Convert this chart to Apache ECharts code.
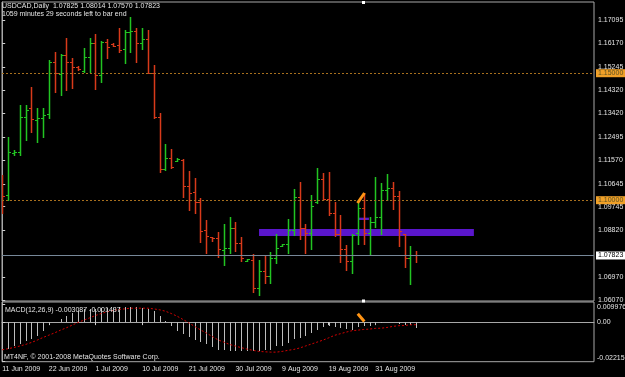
<!DOCTYPE html>
<html><head><meta charset="utf-8">
<script src="https://cdn.jsdelivr.net/npm/echarts@6/dist/echarts.min.js"></script>
<style>html,body{margin:0;padding:0;background:#000;}#c{width:625px;height:377px;}</style>
</head><body><div id="c"></div>
<script>
const symbolName = 'USDCAD,Daily';
const dates = ['11 Jun 2009','12 Jun 2009','14 Jun 2009','15 Jun 2009','16 Jun 2009','17 Jun 2009','18 Jun 2009','19 Jun 2009',
 '22 Jun 2009','23 Jun 2009','24 Jun 2009','25 Jun 2009','26 Jun 2009','28 Jun 2009','29 Jun 2009','30 Jun 2009',
 '1 Jul 2009','2 Jul 2009','3 Jul 2009','5 Jul 2009','6 Jul 2009','7 Jul 2009','8 Jul 2009','9 Jul 2009',
 '10 Jul 2009','13 Jul 2009','14 Jul 2009','15 Jul 2009','16 Jul 2009','17 Jul 2009','19 Jul 2009','20 Jul 2009',
 '21 Jul 2009','22 Jul 2009','23 Jul 2009','24 Jul 2009','26 Jul 2009','27 Jul 2009','28 Jul 2009','29 Jul 2009',
 '30 Jul 2009','31 Jul 2009','2 Aug 2009','3 Aug 2009','4 Aug 2009','5 Aug 2009','6 Aug 2009','7 Aug 2009',
 '9 Aug 2009','10 Aug 2009','11 Aug 2009','12 Aug 2009','13 Aug 2009','14 Aug 2009','17 Aug 2009','18 Aug 2009',
 '19 Aug 2009','20 Aug 2009','21 Aug 2009','24 Aug 2009','25 Aug 2009','26 Aug 2009','27 Aug 2009','28 Aug 2009',
 '31 Aug 2009','1 Sep 2009','2 Sep 2009','3 Sep 2009','4 Sep 2009','7 Sep 2009','8 Sep 2009','9 Sep 2009'];
const opens = [1.10599,1.10205,1.11858,1.11910,1.13276,1.13630,1.13158,1.13236,1.13394,1.15441,1.14969,1.15717,1.15441,1.15244,1.15087,1.15627,
 1.16201,1.14929,1.16241,1.16150,1.16111,1.15942,1.16611,1.16674,1.16201,1.16335,1.15008,1.13264,1.11217,1.11650,1.11543,1.11583,
 1.10559,1.10323,1.09929,1.08827,1.08532,1.08500,1.08039,1.08106,1.08894,1.08303,1.07606,1.07646,1.06555,1.07213,1.07016,1.07713,
 1.08197,1.08264,1.08827,1.10114,1.08894,1.08697,1.09929,1.10823,1.10036,1.09484,1.08669,1.08079,1.07606,1.08697,1.09693,1.08721,
 1.09154,1.09327,1.10402,1.10469,1.10165,1.08650,1.07737,1.07825];
const highs = [1.10992,1.12500,1.11976,1.13748,1.13748,1.14469,1.13618,1.13618,1.15520,1.15847,1.15757,1.16375,1.15587,1.15284,1.15981,1.16375,
 1.16532,1.16280,1.16335,1.16201,1.16792,1.16701,1.17201,1.16768,1.16768,1.16701,1.15323,1.13445,1.12213,1.12016,1.11662,1.11622,
 1.11150,1.10886,1.10098,1.09221,1.08551,1.08760,1.09063,1.09350,1.09154,1.08540,1.07685,1.07882,1.07646,1.07843,1.07973,1.08669,
 1.08276,1.09260,1.10441,1.10729,1.09063,1.10205,1.11256,1.11059,1.11122,1.09941,1.09417,1.08236,1.08658,1.10008,1.10272,1.09350,
 1.10925,1.10689,1.11032,1.10729,1.10374,1.08669,1.08209,1.08014];
const lows = [1.09496,1.10008,1.11780,1.11780,1.12370,1.12697,1.12303,1.12500,1.13225,1.14272,1.14142,1.14339,1.14406,1.15126,1.15059,1.15059,
 1.14366,1.14666,1.15587,1.16071,1.15847,1.15390,1.15847,1.15453,1.15942,1.14996,1.13225,1.11122,1.11189,1.11256,1.11524,1.10138,
 1.09614,1.09484,1.08366,1.07910,1.08394,1.07776,1.07449,1.07910,1.08012,1.07618,1.07587,1.06398,1.06268,1.06752,1.06728,1.07540,
 1.08177,1.07933,1.08630,1.08461,1.07910,1.08079,1.09890,1.10008,1.09417,1.08591,1.07579,1.07252,1.07146,1.08264,1.08264,1.07882,
 1.08933,1.08669,1.10008,1.09642,1.08209,1.07382,1.06701,1.07570];
const closes = [1.10165,1.11898,1.11917,1.13288,1.13551,1.13197,1.13236,1.13354,1.15453,1.15008,1.15717,1.15453,1.15244,1.15166,1.15627,1.16201,
 1.14929,1.16241,1.16044,1.16091,1.15914,1.16611,1.16674,1.16201,1.16335,1.15020,1.13264,1.11217,1.11650,1.11319,1.11622,1.10559,
 1.10295,1.09941,1.08799,1.08591,1.08500,1.08067,1.08106,1.08894,1.08303,1.07713,1.07666,1.06555,1.07213,1.07016,1.07713,1.08106,
 1.08256,1.08827,1.10114,1.08894,1.08697,1.09772,1.10823,1.10036,1.09484,1.08669,1.08079,1.07606,1.08630,1.09681,1.08709,1.09154,
 1.09327,1.10402,1.10469,1.10165,1.08788,1.07737,1.07825,1.07823];
const macdMain = [-0.0151,-0.0151,-0.0136,-0.0121,-0.0108,-0.0095,-0.0076,-0.0052,-0.0009,0.0002,0.0019,0.0035,0.0050,0.0063,0.0073,0.0076,
 0.0076,0.0078,0.0078,0.0080,0.0082,0.0084,0.0084,0.0082,0.0080,0.0076,0.0063,0.0035,0.0009,-0.0024,-0.0047,-0.0065,
 -0.0084,-0.0099,-0.0112,-0.0123,-0.0140,-0.0155,-0.0158,-0.0164,-0.0164,-0.0164,-0.0164,-0.0164,-0.0164,-0.0155,-0.0155,-0.0136,
 -0.0136,-0.0117,-0.0095,-0.0089,-0.0080,-0.0061,-0.0043,-0.0028,-0.0024,-0.0028,-0.0034,-0.0039,-0.0043,-0.0028,-0.0024,-0.0020,
 -0.0015,-0.0006,-0.0002,0.0002,-0.0009,-0.0015,-0.0015,-0.003087];
const macdSignal = [-0.0155,-0.0149,-0.0142,-0.0134,-0.0125,-0.0114,-0.0101,-0.0086,-0.0073,-0.0060,-0.0045,-0.0032,-0.0017,-0.0002,0.0011,0.0024,
 0.0037,0.0048,0.0058,0.0065,0.0071,0.0074,0.0078,0.0078,0.0078,0.0078,0.0074,0.0069,0.0061,0.0048,0.0033,0.0015,
 -0.0004,-0.0024,-0.0043,-0.0061,-0.0080,-0.0099,-0.0112,-0.0125,-0.0134,-0.0143,-0.0151,-0.0158,-0.0164,-0.0166,-0.0168,-0.0168,
 -0.0164,-0.0158,-0.0153,-0.0145,-0.0134,-0.0123,-0.0112,-0.0101,-0.0088,-0.0074,-0.0065,-0.0056,-0.0048,-0.0045,-0.0041,-0.0039,
 -0.0035,-0.0034,-0.0030,-0.0024,-0.0020,-0.0019,-0.0015,-0.001437];
const priceTicks = [1.17095,1.16170,1.15245,1.14320,1.13420,1.12495,1.11570,1.10645,1.09745,1.08820,1.06970,1.06070];
const macdTicks = [0.009976, 0, -0.022158];
const dateTickIdx = [0,8,16,24,32,40,48,56,64];
const hLevels = [1.15000, 1.10000];
const currentPrice = 1.07823;
const rectMain = [[44.05, 1.08867], [80.9, 1.08591]];
const rectSmall = [[61.1, 1.09312], [62.9, 1.09221]];
const trendMain = [[60.94, 1.09890], [62.14, 1.10284]];
const trendMacd = [[60.98, 0.00464], [62.11, 0.00030]];
const remainText = '1059 minutes 29 seconds left to bar end';
const footerText = 'MT4NF, \u00a9 2001-2008 MetaQuotes Software Corp.';

const FF = "'Liberation Sans',Arial,sans-serif";
const FS = 7;
const UP = '#22c422', DOWN = '#d83a1a', TXT = '#e4e4e4', AX = '#a8a8a8';
const n = opens.length, last = n - 1;
const ohlc = opens.map((o, i) => [i, o, highs[i], lows[i], closes[i]]);
const hist = macdMain.map((v, i) => [i, v]);
const sig = macdSignal.map((v, i) => [i, v]);
const header = symbolName + '  ' + [opens[last], highs[last], lows[last], closes[last]].map(v => v.toFixed(5)).join(' ');
const macdText = 'MACD(12,26,9) ' + macdMain[last].toFixed(6) + ' ' + macdSignal[last].toFixed(6);

function renderOHLC(params, api) {
  const i = api.value(0), o = api.value(1), h = api.value(2), l = api.value(3), c = api.value(4);
  const po = api.coord([i, o]), ph = api.coord([i, h]), pl = api.coord([i, l]), pc = api.coord([i, c]);
  const x = Math.round(po[0]) + 0.5;
  const st = { stroke: c >= o ? UP : DOWN, lineWidth: 1.5 };
  const yo = Math.round(po[1]) + 0.5, yc = Math.round(pc[1]) + 0.5;
  return { type: 'group', children: [
    { type: 'line', shape: { x1: x, y1: Math.round(ph[1]), x2: x, y2: Math.round(pl[1]) + 1 }, style: st },
    { type: 'line', shape: { x1: x - 2.5, y1: yo, x2: x, y2: yo }, style: { stroke: st.stroke, lineWidth: 1 } },
    { type: 'line', shape: { x1: x, y1: yc, x2: x + 2.5, y2: yc }, style: { stroke: st.stroke, lineWidth: 1 } }
  ]};
}
function renderHist(params, api) {
  const i = api.value(0), v = api.value(1);
  const p0 = api.coord([i, 0]), p1 = api.coord([i, v]);
  const x = Math.round(p0[0]) + 0.5;
  return { type: 'line', shape: { x1: x, y1: Math.round(p0[1]), x2: x, y2: Math.round(p1[1]) }, style: { stroke: '#bdbdbd', lineWidth: 1 } };
}
const ts = (extra) => Object.assign({ color: TXT, fontSize: FS, fontWeight: 'normal', fontFamily: FF }, extra || {});
const chart = echarts.init(document.getElementById('c'), null, { renderer: 'canvas' });
chart.setOption({
  backgroundColor: '#000',
  animation: false,
  title: [
    { text: header, left: 2, top: 3, padding: 0, textStyle: ts() },
    { text: remainText, left: 2, top: 11, padding: 0, textStyle: ts() },
    { text: macdText, left: 5, top: 307, padding: 0, textStyle: ts() },
    { text: footerText, left: 4, top: 354, padding: 0, textStyle: ts() }
  ],
  grid: [
    { left: 2, top: 2, width: 592, height: 299, show: true, borderColor: AX, borderWidth: 1, backgroundColor: 'transparent', outerBoundsMode: 'none', containLabel: false },
    { left: 2, top: 302, width: 592, height: 59.7, show: true, borderColor: AX, borderWidth: 1, backgroundColor: 'transparent', outerBoundsMode: 'none', containLabel: false }
  ],
  xAxis: [
    { gridIndex: 0, type: 'value', min: -0.035, max: 101.5, show: false },
    { gridIndex: 1, type: 'value', min: -0.035, max: 101.5,
      axisLine: { show: true, lineStyle: { color: AX } },
      axisTick: { show: true, customValues: dateTickIdx, length: 3, lineStyle: { color: '#d0d0d0' } },
      axisLabel: { customValues: dateTickIdx, formatter: v => dates[Math.round(v)] || '', align: 'left', margin: 4,
        hideOverlap: false, showMinLabel: true, showMaxLabel: true,
        color: TXT, fontSize: FS, fontFamily: FF },
      splitLine: { show: false } }
  ],
  yAxis: [
    { gridIndex: 0, type: 'value', position: 'right', min: 1.06031, max: 1.17804,
      axisLine: { show: true, lineStyle: { color: AX } },
      axisTick: { show: true, customValues: priceTicks, length: 3, lineStyle: { color: '#d0d0d0' } },
      axisLabel: { customValues: priceTicks, formatter: v => v.toFixed(5), margin: 4, color: TXT, fontSize: FS, fontFamily: FF,
        hideOverlap: false, showMinLabel: true, showMaxLabel: true },
      splitLine: { show: false } },
    { gridIndex: 1, type: 'value', position: 'right', min: -0.022158, max: 0.011261,
      axisLine: { show: true, lineStyle: { color: AX } },
      axisTick: { show: true, customValues: macdTicks, length: 3, lineStyle: { color: '#d0d0d0' } },
      axisLabel: { customValues: macdTicks, margin: 3, color: TXT, fontSize: FS, fontFamily: FF,
        hideOverlap: false, showMinLabel: true, showMaxLabel: true,
        formatter: v => v === 0 ? '0.00' : (v > 0 ? '{t|' + v.toFixed(6) + '}' : '{b|' + v.toFixed(6) + '}'),
        rich: { t: { padding: [6, 0, 0, 0], color: TXT, fontSize: FS, fontFamily: FF },
                b: { padding: [0, 0, 8, 0], color: TXT, fontSize: FS, fontFamily: FF } } },
      splitLine: { show: false } }
  ],
  graphic: [
    { type: 'rect', shape: { x: 362, y: 1, width: 3, height: 3 }, style: { fill: '#fff' }, z: 100 },
    { type: 'rect', shape: { x: 362, y: 299.5, width: 3, height: 3 }, style: { fill: '#fff' }, z: 100 }
  ],
  series: [
    { type: 'custom', name: 'price', xAxisIndex: 0, yAxisIndex: 0, data: ohlc, renderItem: renderOHLC,
      encode: { x: 0, y: [1, 2, 3, 4] }, z: 2, clip: true },
    { type: 'line', name: 'objects', xAxisIndex: 0, yAxisIndex: 0, data: trendMain, symbol: 'none',
      lineStyle: { color: '#ff9414', width: 3 }, z: 6,
      markArea: { silent: true, itemStyle: { color: '#5a16cc', opacity: 1 },
        data: [[{ coord: rectMain[0] }, { coord: rectMain[1] }], [{ coord: rectSmall[0] }, { coord: rectSmall[1] }]] },
      markLine: { silent: true, symbol: 'none', animation: false, precision: 5,
        data: hLevels.map(v => ({ yAxis: v, lineStyle: { color: '#a8701e', type: [2, 2], width: 1 },
            label: { show: true, position: 'end', distance: 2, formatter: p => Number(p.value).toFixed(5),
              backgroundColor: '#f0a028', color: '#5a5020', fontSize: FS, fontFamily: FF, padding: [1, 2, 0, 2] } }))
          .concat([{ yAxis: currentPrice, lineStyle: { color: '#778899', type: 'solid', width: 1 },
            label: { show: true, position: 'end', distance: 2, formatter: p => Number(p.value).toFixed(5),
              backgroundColor: '#ffffff', color: '#000', fontSize: FS, fontFamily: FF, padding: [1, 2, 0, 2] } }]) } },
    { type: 'custom', name: 'macd', xAxisIndex: 1, yAxisIndex: 1, data: hist, renderItem: renderHist,
      encode: { x: 0, y: 1 }, z: 2 },
    { type: 'line', name: 'signal', xAxisIndex: 1, yAxisIndex: 1, data: sig, symbol: 'none',
      lineStyle: { color: '#d40000', width: 1, type: [2, 2] }, z: 3 },
    { type: 'line', name: 'macdObj', xAxisIndex: 1, yAxisIndex: 1, data: trendMacd, symbol: 'none',
      lineStyle: { color: '#ff9414', width: 3 }, z: 6 }
  ]
});
</script>
</body></html>
